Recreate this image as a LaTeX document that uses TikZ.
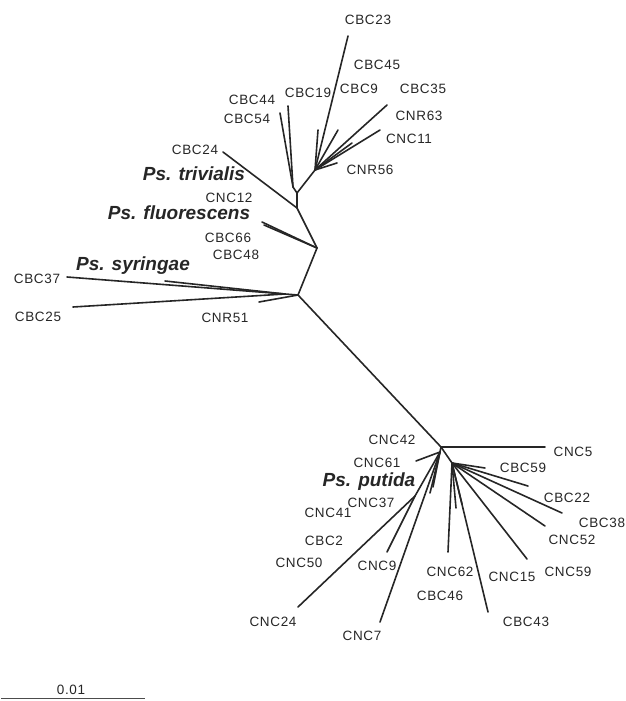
\documentclass[tikz,border=0pt]{standalone}
\usepackage{fontspec}
\setmainfont{Liberation Sans}
\newfontfamily\labfont[LetterSpace=5]{Liberation Sans}
\begin{document}
\begin{tikzpicture}[x=1pt,y=-1pt,
  edge/.style={line width=1.6pt,draw=black!85,line cap=round},
  lab/.style={font=\labfont\fontsize{13.5}{15}\selectfont,text=black!85,anchor=base,inner sep=0pt},
  sp/.style={font=\fontsize{19}{22}\selectfont\bfseries\itshape,text=black!85,anchor=base,inner sep=0pt}]
\path[use as bounding box] (0,0) rectangle (626,701);
% internal nodes
\coordinate (A) at (298,295);
\coordinate (B) at (441,447);
\coordinate (C) at (317,248);
\coordinate (D) at (297,208);
\coordinate (E) at (297,193);
\coordinate (E2) at (293,187);
\coordinate (F) at (315,170);
\coordinate (S) at (285,294);
\coordinate (H) at (440,452);
\coordinate (K) at (415,496);
\coordinate (I) at (452,463);
% tips
\coordinate (t23) at (348,36);
\coordinate (t19) at (318,130);
\coordinate (t9) at (338,130);
\coordinate (t35) at (387,105);
\coordinate (t11) at (380,130);
\coordinate (t63) at (352,143);
\coordinate (t56) at (337,163);
\coordinate (t44) at (288,106);
\coordinate (t54) at (280,113);
\coordinate (t24) at (223,152);
\coordinate (t66) at (262,222);
\coordinate (t48) at (264,225);
\coordinate (t37) at (67,277);
\coordinate (t25) at (73,307);
\coordinate (tsy) at (165,281);
\coordinate (t51) at (259,302);
\coordinate (tc5) at (545,447);
\coordinate (t61) at (416,461);
\coordinate (tn9) at (387,552);
\coordinate (tn24) at (298,607);
\coordinate (tn7) at (380,622);
\coordinate (tx1) at (430,493);
\coordinate (tx2) at (433,487);
\coordinate (tb59) at (485,468);
\coordinate (tb22) at (528,486);
\coordinate (tb38) at (562,513);
\coordinate (tn52) at (545,526);
\coordinate (tn59) at (527,559);
\coordinate (tb43) at (488,612);
\coordinate (tn62) at (448,552);
\coordinate (ty1) at (456,508);
\coordinate (ty2) at (462,504);
% edges
\draw[edge] (A) -- (B);
\draw[edge] (A) -- (C);
\draw[edge] (C) -- (D);
\draw[edge] (D) -- (E);
\draw[edge] (E) -- (F);
\draw[edge] (E) -- (E2);
\draw[edge] (E2) -- (t44);
\draw[edge] (E2) -- (t54);
\draw[edge] (D) -- (t24);
\draw[edge] (C) -- (t66);
\draw[edge] (C) -- (t48);
\foreach \t in {t23,t19,t9,t35,t11,t63,t56} \draw[edge] (F) -- (\t);
\draw[edge] (A) -- (S);
\draw[edge] (S) -- (t37);
\draw[edge] (S) -- (t25);
\draw[edge] (S) -- (tsy);
\draw[edge] (A) -- (t51);
\draw[edge] (B) -- (tc5);
\draw[edge] (B) -- (H);
\draw[edge] (B) -- (I);
\draw[edge] (H) -- (t61);
\draw[edge] (H) -- (K);
\draw[edge] (K) -- (tn9);
\draw[edge] (K) -- (tn24);
\draw[edge] (H) -- (tn7);
\draw[edge] (H) -- (tx1);
\draw[edge] (H) -- (tx2);
\foreach \t in {tb59,tb22,tb38,tn52,tn59,tb43,tn62,ty1,ty2} \draw[edge] (I) -- (\t);
% labels
\node[lab] (l23) at (368,25) {CBC23};
\node[lab] (l45) at (377,70) {CBC45};
\node[lab] (l9) at (359,93) {CBC9};
\node[lab] (l35) at (423,93) {CBC35};
\node[lab] (l19) at (308,97) {CBC19};
\node[lab] (l44) at (252,104) {CBC44};
\node[lab] (l54) at (247,123) {CBC54};
\node[lab] (l63) at (419,120) {CNR63};
\node[lab] (l11) at (409,143) {CNC11};
\node[lab] (l56) at (370,174) {CNR56};
\node[lab] (l24) at (195,154) {CBC24};
\node[sp] (ptr) at (194,180) {Ps. trivialis};
\node[lab] (l12) at (229,202) {CNC12};
\node[sp] (pfl) at (179,219) {Ps. fluorescens};
\node[lab] (l66) at (228,242) {CBC66};
\node[lab] (l48) at (236,259) {CBC48};
\node[sp] (psy) at (133,270) {Ps. syringae};
\node[lab] (l37) at (37,283) {CBC37};
\node[lab] (l25) at (38,321) {CBC25};
\node[lab] (l51) at (225,322) {CNR51};
\node[lab] (l42) at (392,444) {CNC42};
\node[lab] (l5) at (573,456) {CNC5};
\node[lab] (l61) at (377,467) {CNC61};
\node[lab] (lb59) at (523,472) {CBC59};
\node[sp] (ppu) at (369,486) {Ps. putida};
\node[lab] (lb22) at (567,502) {CBC22};
\node[lab] (l37b) at (371,507) {CNC37};
\node[lab] (l41) at (328,517) {CNC41};
\node[lab] (lb38) at (602,527) {CBC38};
\node[lab] (l52) at (572,544) {CNC52};
\node[lab] (lb2) at (324,545) {CBC2};
\node[lab] (l50) at (299,567) {CNC50};
\node[lab] (ln9) at (377,570) {CNC9};
\node[lab] (l62) at (450,576) {CNC62};
\node[lab] (l15) at (512,581) {CNC15};
\node[lab] (ln59) at (568,576) {CNC59};
\node[lab] (lb46) at (440,600) {CBC46};
\node[lab] (ln24) at (273,626) {CNC24};
\node[lab] (lb43) at (526,626) {CBC43};
\node[lab] (ln7) at (362,640) {CNC7};
% scale bar
\coordinate (s0) at (1,698);
\coordinate (s1) at (145,698);
\draw[line width=1pt,draw=black!70] (s0) -- (s1);
\node[lab] (sc) at (71,694) {0.01};
\end{tikzpicture}
\end{document}
